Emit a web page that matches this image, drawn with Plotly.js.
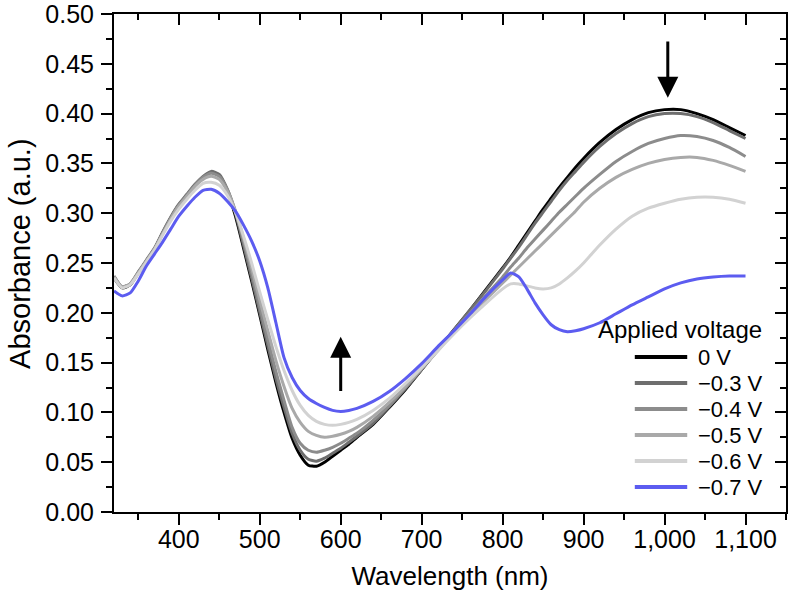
<!DOCTYPE html>
<html>
<head>
<meta charset="utf-8">
<script src="https://cdn.plot.ly/plotly-3.0.1.min.js"></script>
<style>html,body{margin:0;padding:0;background:#fff;}#chart{width:788px;height:596px;}</style>
</head>
<body>
<div id="chart"></div>
<script>
// Wavelength grid (nm)
const wavelength = [320,330,340,350,360,370,380,390,400,410,420,430,440,450,460,470,480,490,500,510,520,530,540,550,560,570,580,590,600,610,620,640,660,680,700,720,740,760,780,800,810,820,830,840,850,860,870,880,890,900,920,940,960,980,1000,1020,1040,1060,1080,1100];

const seriesNames = ['0 V', '\u22120.3 V', '\u22120.4 V', '\u22120.5 V', '\u22120.6 V', '\u22120.7 V'];

const abs_0V = [0.235,0.225,0.228,0.240,0.252,0.264,0.280,0.295,0.308,0.318,0.328,0.336,0.341,0.338,0.322,0.297,0.265,0.232,0.198,0.163,0.130,0.100,0.074,0.057,0.047,0.046,0.050,0.056,0.062,0.068,0.075,0.088,0.105,0.123,0.143,0.163,0.183,0.203,0.224,0.245,0.256,0.268,0.280,0.292,0.304,0.315,0.326,0.336,0.346,0.355,0.371,0.384,0.394,0.401,0.404,0.404,0.400,0.394,0.386,0.378];

const abs_m03V = [0.237,0.226,0.229,0.241,0.253,0.265,0.281,0.296,0.309,0.319,0.329,0.337,0.342,0.339,0.324,0.300,0.268,0.235,0.201,0.167,0.134,0.105,0.079,0.062,0.053,0.051,0.054,0.059,0.064,0.070,0.076,0.089,0.106,0.124,0.143,0.163,0.183,0.203,0.223,0.244,0.255,0.266,0.278,0.290,0.301,0.312,0.323,0.333,0.342,0.351,0.367,0.380,0.390,0.397,0.400,0.400,0.397,0.391,0.383,0.375];

const abs_m04V = [0.236,0.226,0.229,0.240,0.252,0.264,0.280,0.295,0.308,0.318,0.328,0.336,0.340,0.337,0.324,0.302,0.272,0.240,0.206,0.173,0.141,0.112,0.085,0.069,0.062,0.060,0.062,0.065,0.069,0.074,0.079,0.092,0.107,0.125,0.144,0.163,0.182,0.200,0.218,0.236,0.246,0.255,0.265,0.274,0.283,0.292,0.301,0.309,0.317,0.325,0.339,0.352,0.362,0.370,0.375,0.378,0.377,0.373,0.366,0.357];

const abs_m05V = [0.236,0.226,0.229,0.240,0.252,0.264,0.279,0.294,0.307,0.317,0.327,0.334,0.337,0.334,0.322,0.302,0.275,0.245,0.213,0.182,0.152,0.126,0.104,0.090,0.081,0.077,0.075,0.076,0.078,0.081,0.085,0.096,0.110,0.126,0.144,0.162,0.181,0.198,0.214,0.230,0.238,0.246,0.254,0.262,0.270,0.278,0.286,0.294,0.302,0.311,0.325,0.336,0.344,0.350,0.354,0.356,0.356,0.353,0.348,0.342];

const abs_m06V = [0.235,0.225,0.228,0.239,0.251,0.263,0.278,0.292,0.304,0.314,0.323,0.330,0.331,0.328,0.318,0.301,0.277,0.250,0.221,0.193,0.166,0.142,0.122,0.107,0.097,0.091,0.088,0.087,0.088,0.090,0.093,0.102,0.114,0.129,0.145,0.162,0.179,0.195,0.210,0.224,0.229,0.229,0.227,0.225,0.224,0.225,0.229,0.235,0.242,0.250,0.268,0.284,0.297,0.305,0.310,0.314,0.316,0.316,0.314,0.310];

const abs_m07V = [0.222,0.217,0.220,0.232,0.247,0.259,0.271,0.284,0.297,0.307,0.316,0.323,0.324,0.320,0.312,0.302,0.288,0.272,0.252,0.225,0.190,0.155,0.135,0.122,0.114,0.109,0.105,0.102,0.101,0.102,0.104,0.111,0.121,0.134,0.149,0.166,0.182,0.199,0.217,0.233,0.240,0.236,0.224,0.210,0.198,0.188,0.183,0.181,0.182,0.184,0.190,0.199,0.208,0.216,0.224,0.230,0.234,0.236,0.237,0.237];

const seriesValues = [abs_0V, abs_m03V, abs_m04V, abs_m05V, abs_m06V, abs_m07V];
const seriesColors = ['#000000', '#6e6e6e', '#8c8c8c', '#a9a9a9', '#d2d2d2', '#5c5cf0'];

const xTickVals = [400,500,600,700,800,900,1000,1100];
const yTickVals = [0,0.05,0.10,0.15,0.20,0.25,0.30,0.35,0.40,0.45,0.50];

const FONT = 'Liberation Sans, Arial, Helvetica, sans-serif';

const traces = seriesValues.map((vals, i) => ({
  type: 'scatter', mode: 'lines',
  x: wavelength, y: vals,
  name: seriesNames[i], showlegend: false,
  line: {color: seriesColors[i], width: 3, shape: 'spline', smoothing: 0.6}
}));
// empty trace so that the mirrored top/right tick axes get drawn
traces.push({type: 'scatter', mode: 'lines', x: [], y: [], xaxis: 'x2', yaxis: 'y2', showlegend: false, hoverinfo: 'skip'});

const xRange = [320, 1150];
const yRange = [0, 0.5];

// manual legend built from series names / colours
const legendX0 = 0.775, legendX1 = 0.853, legendTextX = 0.866;
const legendY0 = 0.311, legendStep = 0.0522;
const shapes = [];
const annotations = [];
seriesNames.forEach((nm, i) => {
  const yy = legendY0 - i * legendStep;
  shapes.push({type: 'line', xref: 'paper', yref: 'paper', x0: legendX0, x1: legendX1, y0: yy, y1: yy,
    line: {color: seriesColors[i], width: 4}});
  annotations.push({xref: 'paper', yref: 'paper', x: legendTextX, y: yy, xanchor: 'left', yanchor: 'middle',
    text: nm, showarrow: false, font: {family: FONT, size: 22, color: '#000'}});
});
annotations.push(
  {xref: 'paper', yref: 'paper', x: 0.717, y: 0.366, xanchor: 'left', yanchor: 'middle',
   text: 'Applied voltage', showarrow: false, font: {family: FONT, size: 24, color: '#000'}},
  {xref: 'paper', yref: 'paper', x: -0.14, y: 0.52, xanchor: 'center', yanchor: 'middle', textangle: -90,
   text: 'Absorbance (a.u.)', showarrow: false, font: {family: FONT, size: 29, color: '#000'}},
  {xref: 'x', yref: 'y', axref: 'x', ayref: 'y', x: 600, y: 0.176, ax: 600, ay: 0.120,
   text: '', showarrow: true, arrowhead: 2, arrowsize: 1.4, arrowwidth: 3, arrowcolor: '#000'},
  {xref: 'x', yref: 'y', axref: 'x', ayref: 'y', x: 1004, y: 0.416, ax: 1004, ay: 0.474,
   text: '', showarrow: true, arrowhead: 2, arrowsize: 1.4, arrowwidth: 3, arrowcolor: '#000'}
);

const layout = {
  width: 788, height: 596,
  margin: {l: 114, r: 2, t: 14, b: 84},
  paper_bgcolor: '#fff', plot_bgcolor: '#fff',
  showlegend: false,
  font: {family: FONT, color: '#000'},
  xaxis: {
    range: xRange, tickvals: xTickVals, tickformat: ',d',
    ticks: 'outside', ticklen: 11, tickwidth: 2, tickcolor: '#000',
    minor: {dtick: 50, ticks: 'outside', ticklen: 6, tickwidth: 2, tickcolor: '#000', showgrid: false},
    showline: true, linecolor: '#000', linewidth: 2, mirror: true,
    showgrid: false, zeroline: false,
    tickfont: {family: FONT, size: 25, color: '#000'},
    ticklabelstandoff: -7, ticklabeloverflow: 'allow',
    title: {text: 'Wavelength (nm)', font: {family: FONT, size: 26, color: '#000'}, standoff: 15}
  },
  yaxis: {
    range: yRange, tickvals: yTickVals, tickformat: '.2f',
    ticks: 'outside', ticklen: 11, tickwidth: 2, tickcolor: '#000',
    minor: {dtick: 0.025, ticks: 'outside', ticklen: 6, tickwidth: 2, tickcolor: '#000', showgrid: false},
    showline: true, linecolor: '#000', linewidth: 2, mirror: true,
    showgrid: false, zeroline: false,
    tickfont: {family: FONT, size: 25, color: '#000'},
    ticklabelstandoff: 2, ticklabeloverflow: 'allow'
  },
  xaxis2: {
    range: xRange, overlaying: 'x', side: 'top', anchor: 'y2',
    tickvals: xTickVals, showticklabels: false,
    ticks: 'inside', ticklen: 11, tickwidth: 2, tickcolor: '#000',
    minor: {dtick: 50, ticks: 'inside', ticklen: 6, tickwidth: 2, tickcolor: '#000', showgrid: false},
    showgrid: false, zeroline: false, showline: false
  },
  yaxis2: {
    range: yRange, overlaying: 'y', side: 'right', anchor: 'x2',
    tickvals: yTickVals, showticklabels: false,
    ticks: 'inside', ticklen: 11, tickwidth: 2, tickcolor: '#000',
    minor: {dtick: 0.025, ticks: 'inside', ticklen: 6, tickwidth: 2, tickcolor: '#000', showgrid: false},
    showgrid: false, zeroline: false, showline: false
  },
  shapes: shapes,
  annotations: annotations
};

Plotly.newPlot('chart', traces, layout, {displayModeBar: false, staticPlot: true});
</script>
</body>
</html>
